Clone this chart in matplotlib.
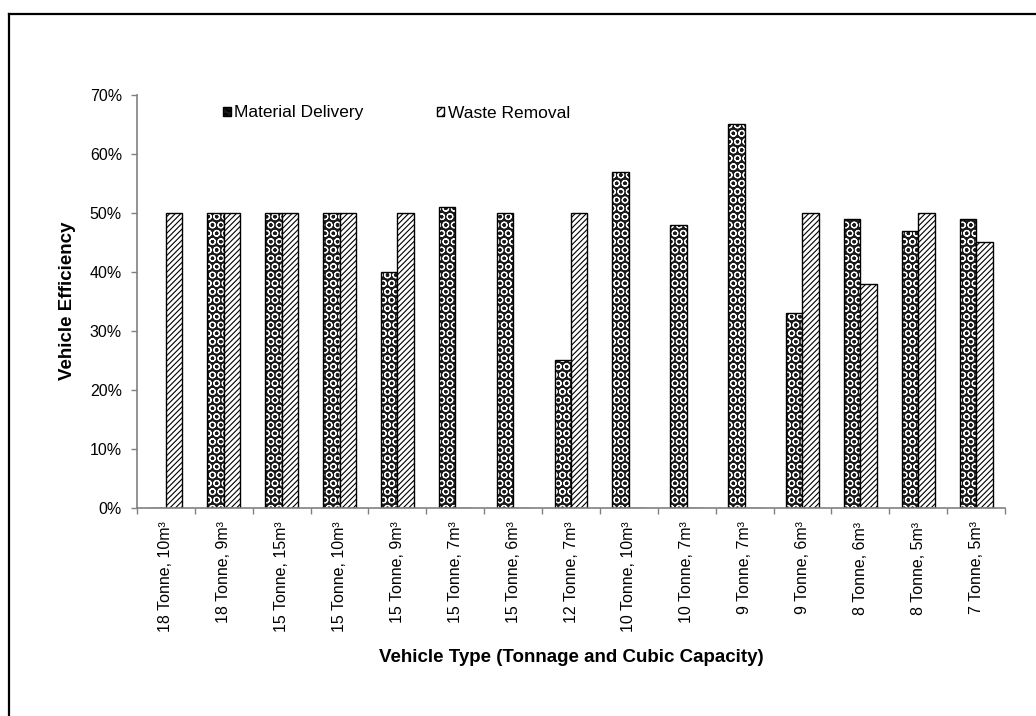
import numpy as np
import matplotlib
matplotlib.use("Agg")
import matplotlib.pyplot as plt
from matplotlib.lines import Line2D
from matplotlib.patches import Patch

plt.rcParams['font.family'] = ['Liberation Sans', 'DejaVu Sans']
plt.rcParams['hatch.linewidth'] = 0.8

# vehicle efficiency data
vehicles = ["18 Tonne, 10m³", "18 Tonne, 9m³", "15 Tonne, 15m³", "15 Tonne, 10m³",
            "15 Tonne, 9m³", "15 Tonne, 7m³", "15 Tonne, 6m³", "12 Tonne, 7m³",
            "10 Tonne, 10m³", "10 Tonne, 7m³", "9 Tonne, 7m³", "9 Tonne, 6m³",
            "8 Tonne, 6m³", "8 Tonne, 5m³", "7 Tonne, 5m³"]
material_delivery = [0, 50, 50, 50, 40, 51, 50, 25, 57, 48, 65, 33, 49, 47, 49]
waste_removal = [50, 50, 50, 50, 50, 0, 0, 50, 0, 0, 0, 50, 38, 50, 45]

md = np.array(material_delivery) / 100
wr = np.array(waste_removal) / 100
x = np.arange(len(vehicles))
w = 0.285

fig = plt.figure(figsize=(10.36, 7.16), dpi=100)
ax = fig.add_axes([137/1036, 1 - 507.5/716, (1005 - 137)/1036, (507.5 - 95)/716])

# material delivery: dotted pattern, drawn as fill + outline
ax.bar(x - w/2, md, w, color='#1a1a1a', edgecolor='white', hatch='OO', linewidth=0)
ax.bar(x - w/2, md, w, fill=False, edgecolor='black', linewidth=1)
# waste removal: diagonal hatch
ax.bar(x + w/2, wr, w, color='white', edgecolor='black', hatch='//////', linewidth=1)

ax.set_xlim(-0.5, len(vehicles) - 0.5)
ax.set_ylim(0, 0.7)
yt = np.arange(0, 0.71, 0.1)
ax.set_yticks(yt)
ax.set_yticklabels([f"{int(round(v*100))}%" for v in yt])

ax.set_xticks(x)
ax.set_xticklabels(vehicles, rotation=90)
ax.set_xticks(np.arange(-0.5, len(vehicles)), minor=True)
ax.tick_params(axis='x', which='major', length=0, pad=10)
ax.tick_params(axis='x', which='minor', length=4.3, color='#808080', width=1)
ax.tick_params(axis='y', length=4.3, color='#808080', width=1, pad=6.5)
ax.tick_params(labelsize=11.5)

for s in ['top', 'right']:
    ax.spines[s].set_visible(False)
for s in ['left', 'bottom']:
    ax.spines[s].set_color('#808080')
    ax.spines[s].set_linewidth(1.2)

ax.set_ylabel("Vehicle Efficiency", fontsize=13.5, fontweight='bold', labelpad=10)
ax.set_xlabel("Vehicle Type (Tonnage and Cubic Capacity)", fontsize=13.5,
              fontweight='bold', labelpad=12)

handles = [Patch(facecolor='#1a1a1a', edgecolor='black', hatch='OO'),
           Patch(facecolor='white', edgecolor='black', hatch='////')]
ax.legend(handles, ["Material Delivery", "Waste Removal"], ncol=2, frameon=False,
          loc='center left', bbox_to_anchor=(223/1036, 1 - 113/716),
          bbox_transform=fig.transFigure, borderpad=0, borderaxespad=0,
          fontsize=12.5, handlelength=0.45, handleheight=0.45, handletextpad=0.2,
          columnspacing=4.2)

# frame around the chart area
fig.add_artist(Line2D([9/1036, 1.0], [1 - 14/716, 1 - 14/716], color='black', linewidth=1.6))
fig.add_artist(Line2D([9/1036, 9/1036], [0.0, 1 - 14/716], color='black', linewidth=1.6))

fig.savefig("out.png", dpi=100)
